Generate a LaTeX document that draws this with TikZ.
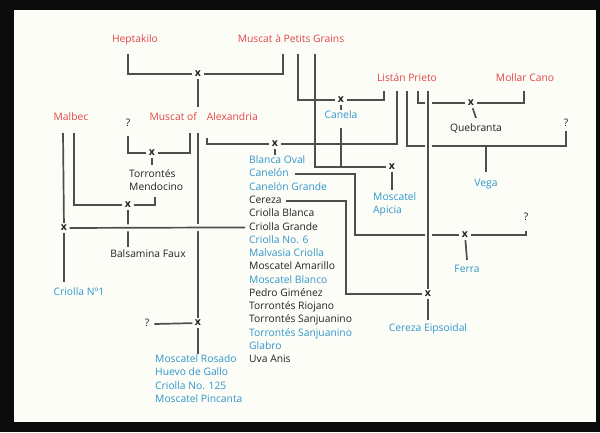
\documentclass[tikz,border=0pt]{standalone}
\usepackage{fontspec}
\setmainfont{Open Sans}
\usetikzlibrary{calc}
\definecolor{grapered}{HTML}{DF4648}
\definecolor{grapeblue}{HTML}{3096CB}
\definecolor{ink}{HTML}{222222}
\definecolor{wire}{HTML}{4E4E4E}
\definecolor{paper}{HTML}{FDFDF7}
\definecolor{framecol}{HTML}{0B0B0B}

\begin{document}
\begin{tikzpicture}[x=1bp,y=-1bp,
  every node/.style={font=\fontsize{10.3bp}{13.3bp}\selectfont, inner sep=0pt},
  lbl/.style={text height=7.5bp, text depth=2.2bp},
  parent/.style={lbl, text=grapered},
  cultivar/.style={lbl, text=grapeblue},
  plain/.style={lbl, text=ink},
  listed/.style={anchor=west},
  cross/.style={text=ink, inner sep=2.3bp, text height=5.4bp, text depth=0pt,
    font=\fontsize{10.5bp}{10.5bp}\selectfont\bfseries},
  link/.style={draw=wire, line width=1.7bp},
  bridge/.style={link, preaction={draw=paper, line width=7bp}},
]
% frame and paper
\fill[framecol] (0,0) rectangle (600,432);
\fill[paper] (14,10) rectangle (596,422);
\useasboundingbox (0,0) rectangle (600,432);

% parent varieties
\node[parent] (hepta)  at (135,40)  {Heptakilo};
\node[parent] (mpg)    at (291,40)  {Muscat à Petits Grains};
\node[parent] (listan) at (407,79)  {Listán Prieto};
\node[parent] (mollar) at (525,79)  {Mollar Cano};
\node[parent] (malbec) at (71,118)  {Malbec};
\node[parent, anchor=east] (moa) at (258,118) {Muscat of\hspace{10bp}Alexandria};

% unknown parents
\node[plain] (q1) at (128,124) {?};
\node[plain] (q2) at (566,124) {?};
\node[plain] (q3) at (526,218) {?};
\node[plain] (q4) at (147,324) {?};

% crossings
\node[cross] (x1)  at (198,74)  {x};
\node[cross] (x2)  at (341,100) {x};
\node[cross] (x3)  at (471,103) {x};
\node[cross] (x4)  at (275,144) {x};
\node[cross] (x5)  at (152,153) {x};
\node[cross] (x6)  at (392,167) {x};
\node[cross] (x7)  at (128,205) {x};
\node[cross] (x8)  at (64,228)  {x};
\node[cross] (x9)  at (465,235) {x};
\node[cross] (x10) at (428,294) {x};
\node[cross] (x11) at (198,323) {x};

% offspring
\node[cultivar] (canela) at (341,116) {Canela};
\node[plain] (quebranta) at (476,129) {Quebranta};
\node[text=grapeblue, align=left, anchor=west] (apicia) at (373,204) {Moscatel\\Apicia};
\node[cultivar] (vega) at (486,184) {Vega};
\node[cultivar] (ferra) at (467,270) {Ferra};
\node[cultivar] (criolla1) at (79,293) {Criolla Nº1};
\node[cultivar] (ceip) at (428,329) {Cereza Eipsoidal};
\node[text=ink, align=left, anchor=west] (tmend) at (129,180) {Torrontés\\Mendocino};
\node[plain] (balsamina) at (148,255) {Balsamina Faux};

% Muscat of Alexandria x Listan Prieto offspring
\node[cultivar,listed] (blancaoval)    at (249,161.0) {Blanca Oval};
\node[cultivar,listed] (canelon)       at (249,174.3) {Canelón};
\node[cultivar,listed] (canelongrande) at (249,187.5) {Canelón Grande};
\node[plain,listed]    (cereza)        at (249,200.8) {Cereza};
\node[plain,listed]    (criollablanca) at (249,214.1) {Criolla Blanca};
\node[plain,listed]    (criollagrande) at (249,227.4) {Criolla Grande};
\node[cultivar,listed] (criolla6)      at (249,240.6) {Criolla No. 6};
\node[cultivar,listed] (malvasia)      at (249,253.9) {Malvasia Criolla};
\node[plain,listed]    (moscamarillo)  at (249,267.2) {Moscatel Amarillo};
\node[cultivar,listed] (moscblanco)    at (249,280.4) {Moscatel Blanco};
\node[plain,listed]    (pedro)         at (249,293.7) {Pedro Giménez};
\node[plain,listed]    (riojano)       at (249,307.0) {Torrontés Riojano};
\node[plain,listed]    (sanjuanino)    at (249,320.2) {Torrontés Sanjuanino};
\node[cultivar,listed] (sanjuaninob)   at (249,333.5) {Torrontés Sanjuanino};
\node[cultivar,listed] (glabro)        at (249,346.8) {Glabro};
\node[plain,listed]    (uvaanis)       at (249,360.0) {Uva Anis};

% Muscat of Alexandria x ? offspring
\node[cultivar,listed] (rosado)     at (155,360.0) {Moscatel Rosado};
\node[cultivar,listed] (huevo)      at (155,373.3) {Huevo de Gallo};
\node[cultivar,listed] (criolla125) at (155,386.7) {Criolla No. 125};
\node[cultivar,listed] (pincanta)   at (155,400.0) {Moscatel Pincanta};

% Heptakilo x Muscat a Petits Grains
\draw[link] ($(hepta)+(-7,14)$) |- (x1);
\draw[link] ($(mpg)+(-8,14)$) |- (x1);
\draw[link] (x1) -- ($(x1 |- moa.north)+(0,-6)$);

% Muscat a Petits Grains x Listan Prieto
\draw[link] ($(mpg)+(7,14)$) |- (x2);
\draw[link] ($(listan)+(-23,12)$) |- (x2);
\draw[link] (x2) -- ($(canela.north)+(0,-1)$);

% Muscat a Petits Grains x Canela
\draw[link] ($(mpg)+(24,14)$) |- (x6);
\draw[link] ($(canela.south)+(0,7)$) |- (x6);
\draw[link] (x6) -- ($(x6 |- apicia.north)+(0,-2)$);

% Listan Prieto x Muscat of Alexandria
\draw[link] ($(listan)+(-10,12)$) |- (x4);
\draw[link] ($(x4 |- moa.south)+(-68,15)$) |- (x4);
\draw[link] (x4) -- ($(x4 |- blancaoval.north)+(0,-1)$);

% Listan Prieto x Mollar Cano
\draw[link] ($(listan)+(11,12)$) |- (x3);
\draw[link] ($(mollar)+(-1,12)$) |- (x3);
\draw[link] (x3) -- ($(quebranta.north)+(0,-6)$);

% Listan Prieto x ?
\coordinate (vegabar) at ($(q2.south)+(0,17)$);
\draw[link] ($(listan)+(0,12)$) |- (vegabar) -- ($(q2.south)+(0,2)$);
\draw[link] (vega |- vegabar) -- ($(vega.north)+(0,-7)$);

% Canelon x ?
\draw[link] ($(canelon.east)+(6,0)$) -| ($(x9)+(-110,0)$) -- (x9);
\draw[link] ($(q3.south)+(0,8)$) |- (x9);
\draw[link] (x9) -- ($(ferra.north)+(0,-5)$);

% Cereza x Listan Prieto
\draw[link] ($(cereza.east)+(4,0)$) -| ($(x10)+(-82,0)$) -- (x10);
\draw[bridge] ($(listan)+(21,12)$) -- (x10);
\draw[link] (x10) -- ($(ceip.north)+(0,-4)$);

% ? x Muscat of Alexandria
\draw[link] ($(q1.south)+(0,7)$) |- (x5);
\draw[link] ($(x5 |- moa.south)+(38,10)$) |- (x5);
\draw[link] (x5) -- ($(x5 |- tmend.north)+(0,-4)$);

% Malbec x Torrontes Mendocino
\draw[link] ($(malbec)+(3,15)$) |- (x7);
\draw[link] ($(tmend.south west)+(26,6)$) |- (x7);
\draw[link] (x7) -- ($(x7 |- balsamina.north)+(0,-3)$);

% Muscat of Alexandria x ?
\draw[link] ($(x11 |- moa.south)+(0,10)$) -- (x11);
\draw[link] ($(q4.east)+(5,0)$) -- (x11);
\draw[link] (x11) -- ($(x11 |- rosado.north)+(0,-1)$);

% Malbec x Criolla Grande
\draw[link] ($(malbec)+(-8,15)$) -- (x8);
\draw[link] (x8) -- ($(x8 |- criolla1.north)+(0,-6)$);
\draw[bridge] ($(criollagrande.west)+(-4,0)$) -- (x8);
\end{tikzpicture}
\end{document}
